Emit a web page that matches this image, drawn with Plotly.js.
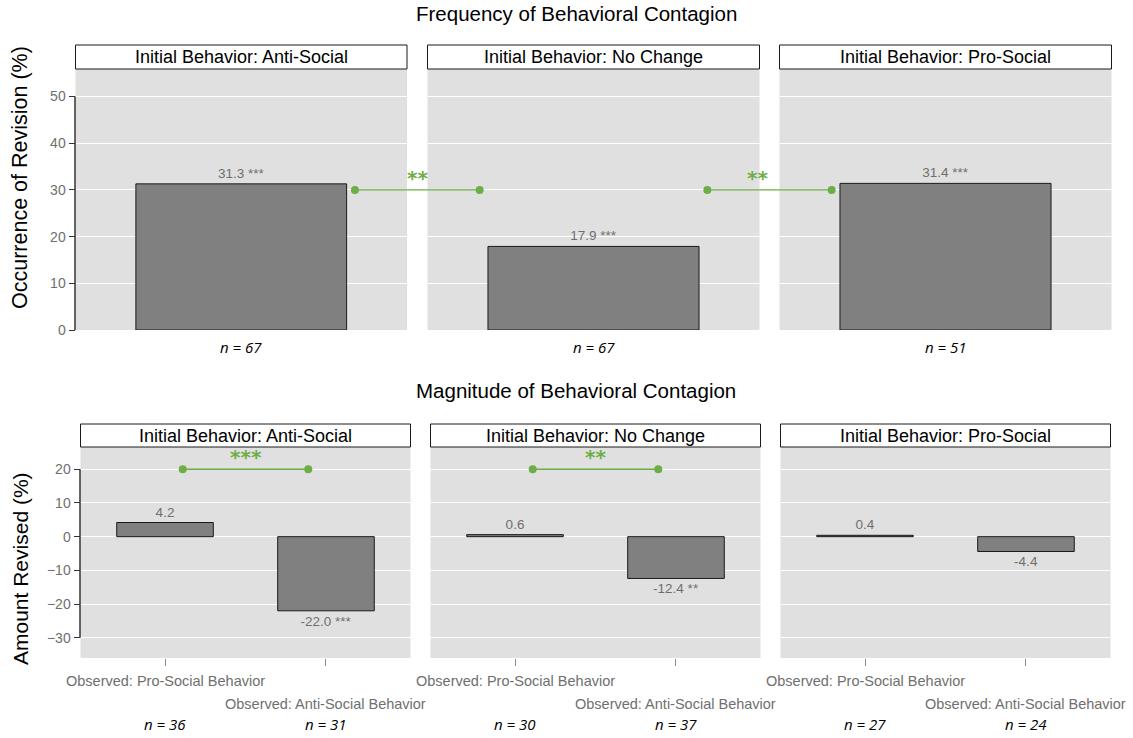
<!DOCTYPE html>
<html>
<head>
<meta charset="utf-8">
<script src="https://cdn.plot.ly/plotly-3.0.1.min.js"></script>
<style>html,body{margin:0;padding:0;background:#fff;}#chart{width:1133px;height:738px;}</style>
</head>
<body>
<div id="chart"></div>
<script>
// ---------- DATA ----------
const facets = ["Initial Behavior: Anti-Social", "Initial Behavior: No Change", "Initial Behavior: Pro-Social"];
const freqValues = [31.3, 17.9, 31.4];
const freqSig = ["***", "***", "***"];
const freqN = [67, 67, 51];
const observed = ["Observed: Pro-Social Behavior", "Observed: Anti-Social Behavior"];
const magValuesAnti = [4.2, -22.0];
const magValuesNoChange = [0.6, -12.4];
const magValuesPro = [0.4, -4.4];
const magSigAnti = ["", "***"];
const magSigNoChange = ["", "**"];
const magSigPro = ["", ""];
const magNAnti = [36, 31];
const magNNoChange = [30, 37];
const magNPro = [27, 24];
const freqCompareSig = ["**", "**"];      // panel 1 vs 2, panel 2 vs 3
const magCompareSig = ["***", "**", ""];  // within each panel
const freqTicks = [0, 10, 20, 30, 40, 50];
const magTicks = [-30, -20, -10, 0, 10, 20];

// ---------- LAYOUT HELPERS ----------
const W = 1133, H = 738;
const px = v => v / W;
const py = v => 1 - v / H;
const GREEN = "#6DAE46";
const GREY_TXT = "#6f6f6f";
const FONT = "Liberation Sans, Arial, sans-serif";

const topDom = [[75.5, 407], [427.5, 759.5], [779.5, 1111.5]];
const botDom = [[80.5, 410.5], [430.5, 760.5], [780.5, 1110.5]];
const topY = [69, 330], botY = [447, 658];
const topStrip = [45, 69], botStrip = [424, 447];
const topXRange = [-0.7, 0.7];
const botXRange = [-0.525, 1.525];
const topYRange = [0, 55.9];
const botYRange = [-36.0, 26.6];

const magValues = [magValuesAnti, magValuesNoChange, magValuesPro];
const magSig = [magSigAnti, magSigNoChange, magSigPro];
const magN = [magNAnti, magNNoChange, magNPro];

const fmt = (v, s) => v.toFixed(1) + (s ? " " + s : "");

const traces = [];
const layout = {
  width: W, height: H,
  margin: {l: 0, r: 0, t: 0, b: 0},
  paper_bgcolor: "#ffffff",
  plot_bgcolor: "#E0E0E0",
  showlegend: false,
  font: {family: FONT, color: "#000"},
  bargap: 0,
  shapes: [],
  annotations: []
};

function dataToPaperX(dom, range, x) {
  return px(dom[0] + (x - range[0]) / (range[1] - range[0]) * (dom[1] - dom[0]));
}

// ---------- TOP ROW ----------
for (let i = 0; i < 3; i++) {
  const k = i + 1;
  const xa = "xaxis" + (k === 1 ? "" : k), ya = "yaxis" + (k === 1 ? "" : k);
  const xr = "x" + (k === 1 ? "" : k), yr = "y" + (k === 1 ? "" : k);
  traces.push({
    type: "bar", x: [0], y: [freqValues[i]], width: 0.89,
    xaxis: xr, yaxis: yr,
    marker: {color: "#808080", line: {color: "#1a1a1a", width: 1}},
    text: [fmt(freqValues[i], freqSig[i])], textposition: "outside",
    textfont: {size: 13.5, color: GREY_TXT, family: FONT},
    constraintext: "none", cliponaxis: false, hoverinfo: "skip"
  });
  layout[xa] = {domain: [px(topDom[i][0]), px(topDom[i][1])], range: topXRange, anchor: yr,
    showticklabels: false, ticks: "", showgrid: false, zeroline: false, showline: false, fixedrange: true};
  layout[ya] = {domain: [py(topY[1]), py(topY[0])], range: topYRange, anchor: xr,
    tickvals: freqTicks, showticklabels: i === 0, ticks: i === 0 ? "outside" : "", ticklen: 6, tickcolor: "#333",
    tickfont: {size: 14, color: GREY_TXT, family: FONT},
    showgrid: true, gridcolor: "#ffffff", gridwidth: 1, zeroline: false, showline: false, fixedrange: true};
  // strip
  layout.shapes.push({type: "rect", xref: "paper", yref: "paper",
    x0: px(topDom[i][0]), x1: px(topDom[i][1]), y0: py(topStrip[1]), y1: py(topStrip[0]),
    fillcolor: "#fff", line: {color: "#1a1a1a", width: 1}});
  layout.annotations.push({xref: "paper", yref: "paper", x: px((topDom[i][0] + topDom[i][1]) / 2),
    y: py((topStrip[0] + topStrip[1]) / 2), text: facets[i], showarrow: false,
    font: {size: 18, color: "#000", family: FONT}, xanchor: "center", yanchor: "middle"});
  // n label
  layout.annotations.push({xref: xr, yref: "paper", x: 0, y: py(347), text: "<i>n = " + freqN[i] + "</i>",
    showarrow: false, font: {size: 15, color: "#000", family: "Open Sans, sans-serif"}, yanchor: "middle"});
}
// top y axis line (0..50)
layout.shapes.push({type: "line", xref: "paper", yref: "y", x0: px(75), x1: px(75),
  y0: freqTicks[0], y1: freqTicks[freqTicks.length - 1], line: {color: "#333", width: 1.5}});

// top comparison connectors
for (let c = 0; c < 2; c++) {
  const xa = dataToPaperX(topDom[c], topXRange, 0.48);
  const xb = dataToPaperX(topDom[c + 1], topXRange, -0.48);
  const yv = 30;
  layout.shapes.push({type: "line", xref: "paper", yref: "y", x0: xa, x1: xb, y0: yv, y1: yv,
    line: {color: GREEN, width: 1.3}});
  [xa, xb].forEach(xx => layout.shapes.push({type: "circle", xref: "paper", yref: "y",
    xsizemode: "pixel", ysizemode: "pixel", xanchor: xx, yanchor: yv, x0: -4, x1: 4, y0: -4, y1: 4,
    fillcolor: GREEN, line: {color: GREEN, width: 0}}));
  layout.annotations.push({xref: "paper", yref: "y", x: (xa + xb) / 2, y: yv, yshift: 12,
    text: "<b>" + freqCompareSig[c] + "</b>", showarrow: false,
    font: {size: 20, color: GREEN, family: "DejaVu Sans, sans-serif"}, yanchor: "middle"});
}

// ---------- BOTTOM ROW ----------
for (let i = 0; i < 3; i++) {
  const k = i + 4;
  const xa = "xaxis" + k, ya = "yaxis" + k, xr = "x" + k, yr = "y" + k;
  traces.push({
    type: "bar", x: [0, 1], y: magValues[i], width: 0.6,
    xaxis: xr, yaxis: yr,
    marker: {color: "#808080", line: {color: "#1a1a1a", width: 1}},
    text: magValues[i].map((v, j) => fmt(v, magSig[i][j])), textposition: "outside",
    textfont: {size: 13.5, color: GREY_TXT, family: FONT},
    constraintext: "none", cliponaxis: false, hoverinfo: "skip"
  });
  layout[xa] = {domain: [px(botDom[i][0]), px(botDom[i][1])], range: botXRange, anchor: yr,
    tickvals: [0, 1], showticklabels: false, ticks: "outside", ticklen: 7, tickcolor: "#8a8a8a", tickwidth: 1,
    showgrid: false, zeroline: false, showline: false, fixedrange: true};
  layout[ya] = {domain: [py(botY[1]), py(botY[0])], range: botYRange, anchor: xr,
    tickvals: magTicks, showticklabels: i === 0, ticks: i === 0 ? "outside" : "", ticklen: 6, tickcolor: "#333",
    tickfont: {size: 14, color: GREY_TXT, family: FONT},
    showgrid: true, gridcolor: "#ffffff", gridwidth: 1, zeroline: false, showline: false, fixedrange: true};
  layout.shapes.push({type: "rect", xref: "paper", yref: "paper",
    x0: px(botDom[i][0]), x1: px(botDom[i][1]), y0: py(botStrip[1]), y1: py(botStrip[0]),
    fillcolor: "#fff", line: {color: "#1a1a1a", width: 1}});
  layout.annotations.push({xref: "paper", yref: "paper", x: px((botDom[i][0] + botDom[i][1]) / 2),
    y: py((botStrip[0] + botStrip[1]) / 2), text: facets[i], showarrow: false,
    font: {size: 18, color: "#000", family: FONT}, xanchor: "center", yanchor: "middle"});
  // observed labels (staggered) and n labels
  observed.forEach((lab, j) => {
    layout.annotations.push({xref: xr, yref: "paper", x: j, y: py(j === 0 ? 681 : 704), text: lab,
      showarrow: false, font: {size: 14.5, color: GREY_TXT, family: FONT}, yanchor: "middle"});
    layout.annotations.push({xref: xr, yref: "paper", x: j, y: py(724), text: "<i>n = " + magN[i][j] + "</i>",
      showarrow: false, font: {size: 15, color: "#000", family: "Open Sans, sans-serif"}, yanchor: "middle"});
  });
  // comparison connector within panel
  if (magCompareSig[i]) {
    const yv = 20;
    layout.shapes.push({type: "line", xref: xr, yref: yr, x0: 0.11, x1: 0.89, y0: yv, y1: yv,
      line: {color: GREEN, width: 1.3}});
    [0.11, 0.89].forEach(xx => layout.shapes.push({type: "circle", xref: xr, yref: yr,
      xsizemode: "pixel", ysizemode: "pixel", xanchor: xx, yanchor: yv, x0: -4, x1: 4, y0: -4, y1: 4,
      fillcolor: GREEN, line: {color: GREEN, width: 0}}));
    layout.annotations.push({xref: xr, yref: yr, x: 0.5, y: yv, yshift: 12,
      text: "<b>" + magCompareSig[i] + "</b>", showarrow: false,
      font: {size: 20, color: GREEN, family: "DejaVu Sans, sans-serif"}, yanchor: "middle"});
  }
}
layout.shapes.push({type: "line", xref: "paper", yref: "y4", x0: px(80), x1: px(80),
  y0: magTicks[0], y1: magTicks[magTicks.length - 1], line: {color: "#333", width: 1.5}});

// ---------- TITLES ----------
layout.annotations.push({xref: "paper", yref: "paper", x: px(576), y: py(13), text: "Frequency of Behavioral Contagion",
  showarrow: false, font: {size: 20.5, color: "#000", family: FONT}, yanchor: "middle"});
layout.annotations.push({xref: "paper", yref: "paper", x: px(576), y: py(390), text: "Magnitude of Behavioral Contagion",
  showarrow: false, font: {size: 20.5, color: "#000", family: FONT}, yanchor: "middle"});
layout.annotations.push({xref: "paper", yref: "paper", x: px(20), y: py(178), text: "Occurrence of Revision (%)",
  textangle: -90, showarrow: false, font: {size: 21.5, color: "#000", family: FONT}, xanchor: "center", yanchor: "middle"});
layout.annotations.push({xref: "paper", yref: "paper", x: px(20), y: py(569), text: "Amount Revised (%)",
  textangle: -90, showarrow: false, font: {size: 21, color: "#000", family: FONT}, xanchor: "center", yanchor: "middle"});

Plotly.newPlot("chart", traces, layout, {displayModeBar: false, staticPlot: true});
</script>
</body>
</html>
